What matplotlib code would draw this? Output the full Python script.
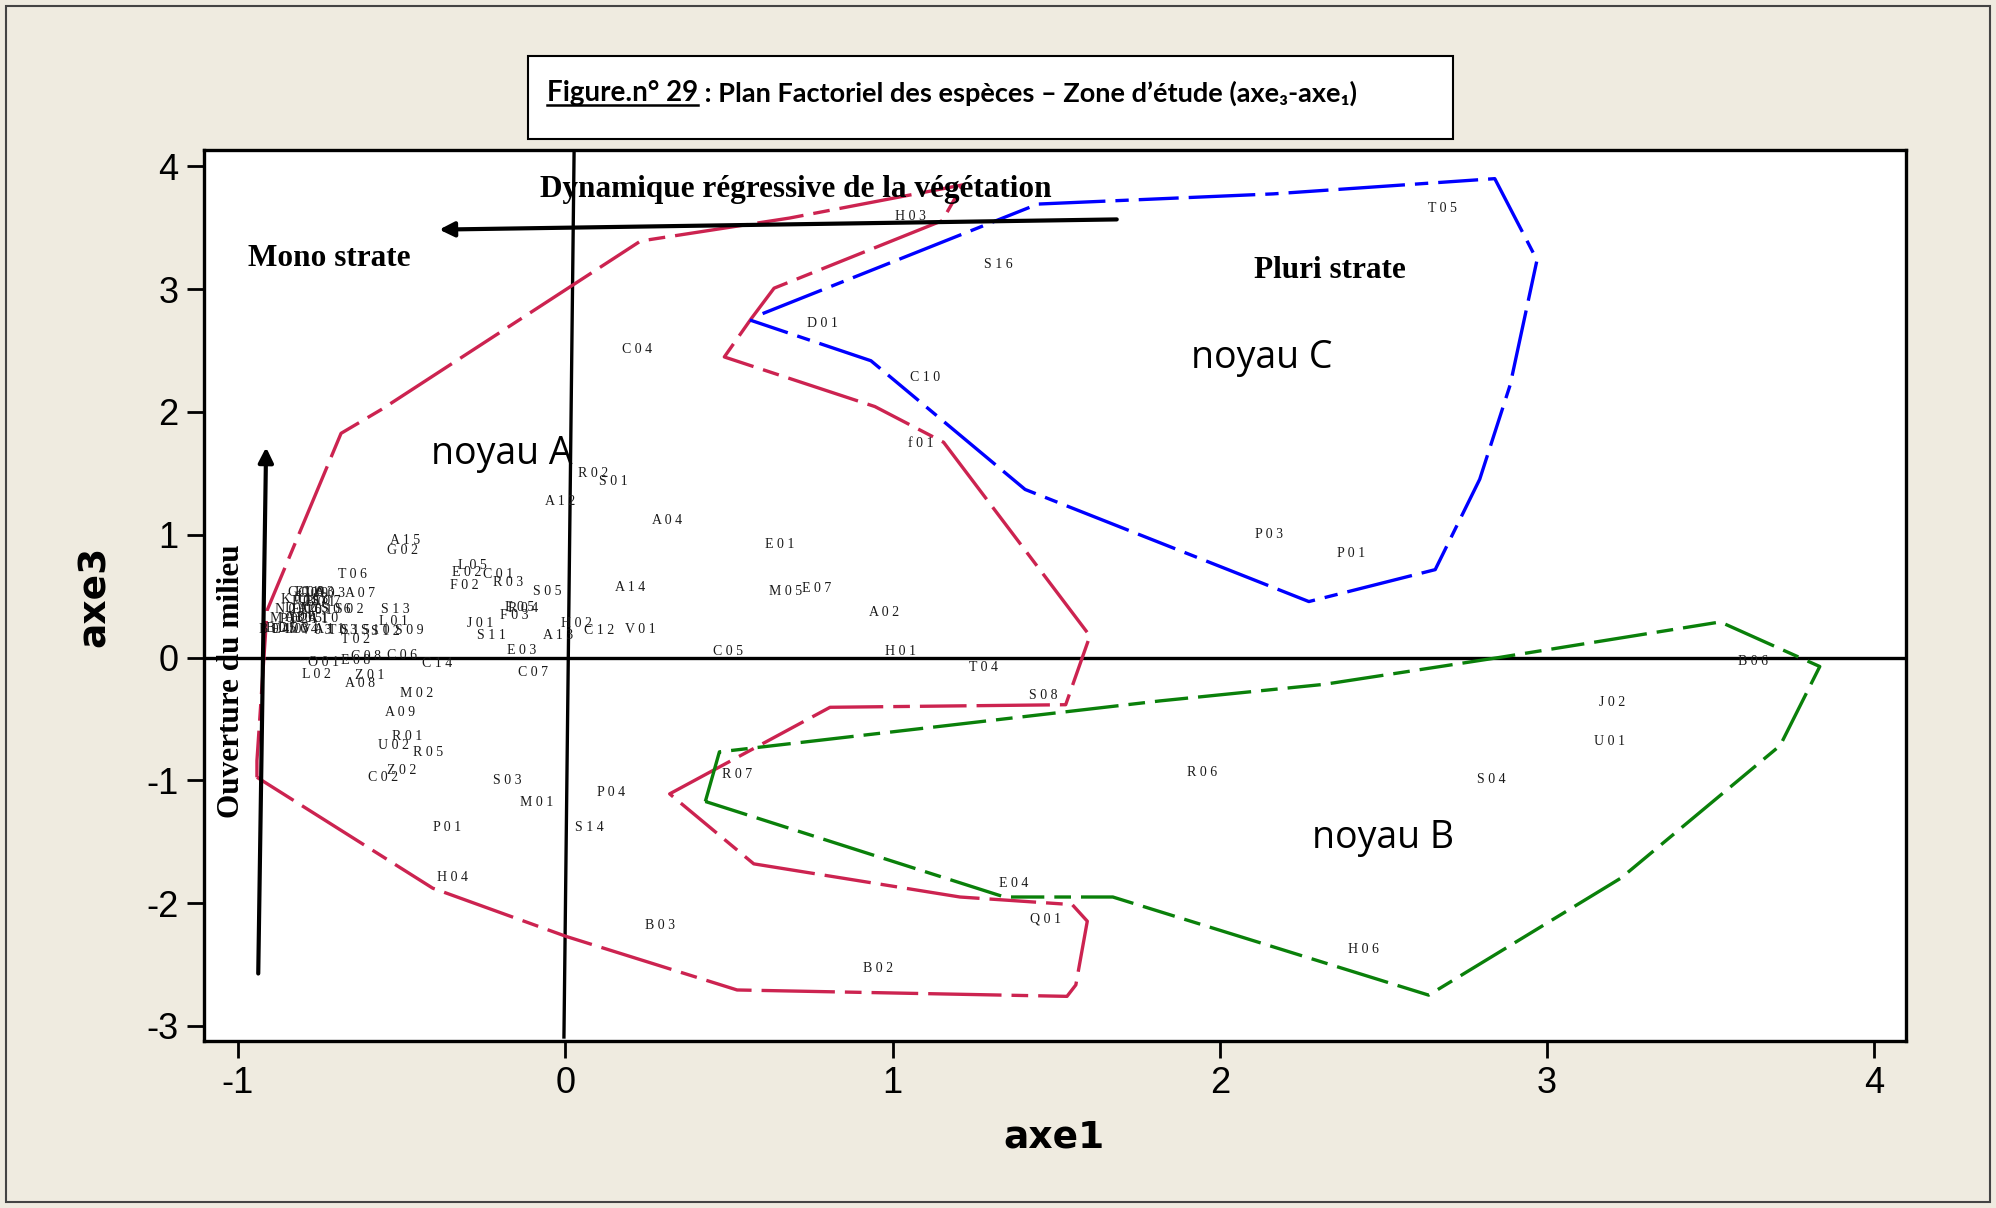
import matplotlib
matplotlib.use('Agg')
import matplotlib.pyplot as plt
from matplotlib.patches import Rectangle
from matplotlib.lines import Line2D

plt.rcParams['axes.unicode_minus'] = False

# species coordinates on the factorial plane (axe1, axe3)
sp_names = ['H03', 'T05', 'S16', 'D01', 'C04', 'C10', 'f01', 'R02', 'S01', 'A12',
            'A04', 'A15', 'G02', 'E01', 'P03', 'P01', 'L05', 'E02', 'F02', 'C01',
            'R03', 'S05', 'A14', 'M05', 'E07', 'A02', 'T06', 'A07', 'S13', 'L01',
            'E05', 'R04', 'F03', 'J01', 'S11', 'H02', 'A13', 'C12', 'V01', 'E03',
            'C07', 'C05', 'H01', 'T04', 'C14', 'C06', 'C08', 'E08', 'O01', 'L02',
            'Z01', 'A08', 'M02', 'A09', 'R01', 'U02', 'R05', 'Z02', 'C02', 'S03',
            'M01', 'P04', 'S14', 'P01', 'H04', 'B03', 'B02', 'E04', 'Q01', 'S08',
            'R07', 'R06', 'S04', 'H06', 'J02', 'U01', 'B06', 'T02', 'S09']
sp_x = [1.055, 2.68, 1.323, 0.787, 0.218, 1.10, 1.085, 0.086, 0.147, -0.016,
        0.31, -0.49, -0.498, 0.654, 2.15, 2.40, -0.285, -0.30, -0.307, -0.206,
        -0.175, -0.054, 0.198, 0.673, 0.767, 0.973, -0.65, -0.626, -0.52, -0.525,
        -0.14, -0.13, -0.155, -0.26, -0.225, 0.035, -0.023, 0.105, 0.23, -0.132,
        -0.10, 0.498, 1.023, 1.277, -0.39, -0.50, -0.61, -0.64, -0.74, -0.76,
        -0.597, -0.627, -0.455, -0.505, -0.483, -0.526, -0.42, -0.50, -0.557, -0.178,
        -0.086, 0.14, 0.074, -0.362, -0.346, 0.29, 0.957, 1.37, 1.467, 1.46,
        0.525, 1.946, 2.83, 2.44, 3.20, 3.19, 3.63, -0.64, -0.475]
sp_y = [3.59, 3.66, 3.20, 2.72, 2.51, 2.28, 1.74, 1.50, 1.43, 1.27,
        1.12, 0.95, 0.87, 0.92, 1.00, 0.85, 0.75, 0.69, 0.59, 0.68,
        0.61, 0.54, 0.57, 0.54, 0.56, 0.37, 0.68, 0.52, 0.39, 0.29,
        0.41, 0.40, 0.34, 0.28, 0.18, 0.28, 0.18, 0.22, 0.23, 0.06,
        -0.12, 0.05, 0.05, -0.08, -0.05, 0.02, 0.01, -0.02, -0.04, -0.14,
        -0.15, -0.21, -0.29, -0.45, -0.64, -0.72, -0.77, -0.92, -0.98, -1.00,
        -1.18, -1.10, -1.38, -1.38, -1.79, -2.18, -2.53, -1.84, -2.13, -0.31,
        -0.95, -0.94, -0.99, -2.38, -0.37, -0.68, -0.03, 0.15, 0.22]

# overlapping labels of the dense group near axe1 = -0.8 (mostly unreadable)
grp_names = ['G01', 'E09', 'C09', 'L03', 'A03',
             'K01', 'F01', 'C13', 'B01', 'S07',
             'N01', 'D02', 'E06', 'A05', 'I01', 'S06', 'S02',
             'M03', 'P02', 'A06', 'H05', 'C11', 'A10',
             'B04', 'B05', 'E10', 'D03', 'L04', 'V03', 'A11', 'T03', 'S15', 'S10', 'S12']
grp_x = [-0.80, -0.78, -0.77, -0.75, -0.72,
         -0.82, -0.79, -0.77, -0.75, -0.73,
         -0.84, -0.81, -0.79, -0.77, -0.75, -0.70, -0.66,
         -0.85, -0.83, -0.81, -0.79, -0.77, -0.74,
         -0.89, -0.87, -0.85, -0.83, -0.80, -0.76, -0.72, -0.68, -0.64, -0.58, -0.55]
grp_y = [0.53, 0.53, 0.52, 0.53, 0.52,
         0.47, 0.46, 0.47, 0.45, 0.46,
         0.39, 0.40, 0.39, 0.40, 0.38, 0.39, 0.39,
         0.32, 0.31, 0.33, 0.32, 0.31, 0.32,
         0.23, 0.24, 0.23, 0.24, 0.23, 0.22, 0.23, 0.22, 0.22, 0.22, 0.21]

# hand drawn envelopes of the three groups
noyauA_x = [-0.942, -0.942, -0.911, -0.685, -0.560, 0.230, 0.685, 1.214, 1.152, 0.638,
            0.568, 0.486, 0.946, 1.156, 1.603, 1.529, 0.809, 0.319, 0.576, 1.206,
            1.549, 1.595, 1.560, 1.533, 0.525, 0.004, -0.405, -0.942]
noyauA_y = [-0.975, -0.840, 0.384, 1.826, 2.023, 3.392, 3.579, 3.849, 3.558, 3.008,
            2.759, 2.448, 2.044, 1.753, 0.176, -0.384, -0.405, -1.110, -1.680, -1.950,
            -2.012, -2.147, -2.666, -2.759, -2.707, -2.272, -1.878, -0.975]
noyauB_x = [0.428, 0.471, 1.817, 2.319, 2.852, 3.529, 3.833, 3.712, 3.226, 2.638,
            1.673, 1.342, 0.428]
noyauB_y = [-1.172, -0.768, -0.353, -0.218, 0.000, 0.290, -0.073, -0.716, -1.795, -2.749,
            -1.950, -1.950, -1.172]
noyauC_x = [0.564, 0.934, 1.405, 2.272, 2.658, 2.794, 2.887, 2.969, 2.840, 2.163,
            1.444, 0.603]
noyauC_y = [2.749, 2.417, 1.369, 0.456, 0.716, 1.452, 2.220, 3.237, 3.900, 3.776,
            3.693, 2.801]

xticks = [-1, 0, 1, 2, 3, 4]
yticks = [-3, -2, -1, 0, 1, 2, 3, 4]

bg = '#efebe0'
fig = plt.figure(figsize=(19.96, 12.08), dpi=100, facecolor=bg)
ax = fig.add_axes([0.102, 0.138, 0.853, 0.738])
ax.set_facecolor('white')

ax.set_xlim(-1.105, 4.097)
ax.set_ylim(-3.125, 4.135)
ax.set_xticks(xticks)
ax.set_yticks(yticks)
ax.set_xticklabels([str(t) for t in xticks])
ax.set_yticklabels([str(t) for t in yticks])
ax.tick_params(direction='out', length=12, width=2, labelsize=26, pad=6)
for lab in ax.get_xticklabels() + ax.get_yticklabels():
    lab.set_family('Liberation Sans')
for s in ax.spines.values():
    s.set_linewidth(2.4)

ax.set_xlabel('axe1', fontsize=27, fontweight='bold', family='DejaVu Sans')
ax.set_ylabel('axe3', fontsize=27, fontweight='bold', family='DejaVu Sans')
ax.xaxis.set_label_coords(0.4995, -0.108)
ax.xaxis.label.set_va('center')
ax.yaxis.set_label_coords(-0.064, 0.4994)
ax.yaxis.label.set_va('center')

# reference axes
ax.axhline(0, color='black', lw=2.4, zorder=2)
ax.plot([0.027, -0.004], [4.12, -3.09], color='black', lw=2.4, zorder=2)

# envelopes
ax.plot(noyauA_x, noyauA_y, color='#cc2350', lw=2.4, dashes=(14, 3, 5, 3, 22, 3))
ax.plot(noyauC_x, noyauC_y, color='#0000ff', lw=2.4, dashes=(12, 3, 4, 3, 20, 3))
ax.plot(noyauB_x, noyauB_y, color='#0a800a', lw=2.4, dashes=(16, 3, 5, 3, 10, 3))

# species labels
for name, x, y in zip(sp_names + grp_names, sp_x + grp_x, sp_y + grp_y):
    ax.text(x, y, ' '.join(name), ha='center', va='center', fontsize=10,
            family='Liberation Serif', color='#1a1a1a', zorder=3)

# annotations
arrow = dict(arrowstyle='-|>', color='black', lw=3, mutation_scale=22, shrinkA=0, shrinkB=0)
ax.annotate('', xy=(-0.385, 3.485), xytext=(1.685, 3.568), arrowprops=arrow)
ax.annotate('', xy=(-0.914, 1.712), xytext=(-0.938, -2.573), arrowprops=arrow)

serif = dict(family='Liberation Serif', fontweight='bold', fontsize=22.5, ha='center', va='center')
ax.text(0.704, 3.81, 'Dynamique régressive de la végétation', **serif)
ax.text(-0.72, 3.25, 'Mono strate', **serif)
ax.text(2.335, 3.15, 'Pluri strate', **serif)
ax.text(-1.02, -0.19, 'Ouverture du milieu', rotation=90, **serif)

sans = dict(family='Open Sans', fontsize=27, ha='center', va='center')
ax.text(-0.195, 1.66, 'noyau A', **sans)
ax.text(2.128, 2.44, 'noyau C', **sans)
ax.text(2.50, -1.47, 'noyau B', **sans)

# title box and outer frame (behind the axes)
fig.patches.append(Rectangle((0.2645, 0.8849), 0.4634, 0.0687, transform=fig.transFigure,
                             facecolor='white', edgecolor='black', lw=1.5, zorder=-1))
fig.patches.append(Rectangle((0.003, 0.005), 0.994, 0.99, transform=fig.transFigure,
                             facecolor='none', edgecolor='#444444', lw=1.5, zorder=-1))
tfont = ['Lato', 'DejaVu Sans']
t1 = fig.text(0.274, 0.916, 'Figure.n° 29', fontsize=20, fontweight='bold',
              family=tfont, va='baseline', ha='left')
fig.canvas.draw()
bb = t1.get_window_extent()
inv = fig.transFigure.inverted()
(x0, y0), (x1, _) = inv.transform([(bb.x0, bb.y0 + 1), (bb.x1, bb.y0 + 1)])
fig.text(x1, 0.916, ' : Plan Factoriel des espèces – Zone d’étude (axe₃-axe₁)',
         fontsize=19.5, fontweight='bold', family=tfont, va='baseline', ha='left')
fig.lines.append(Line2D([x0, x1], [y0, y0], transform=fig.transFigure, color='black', lw=1.8))

fig.savefig('out.png', dpi=100, facecolor=bg)
